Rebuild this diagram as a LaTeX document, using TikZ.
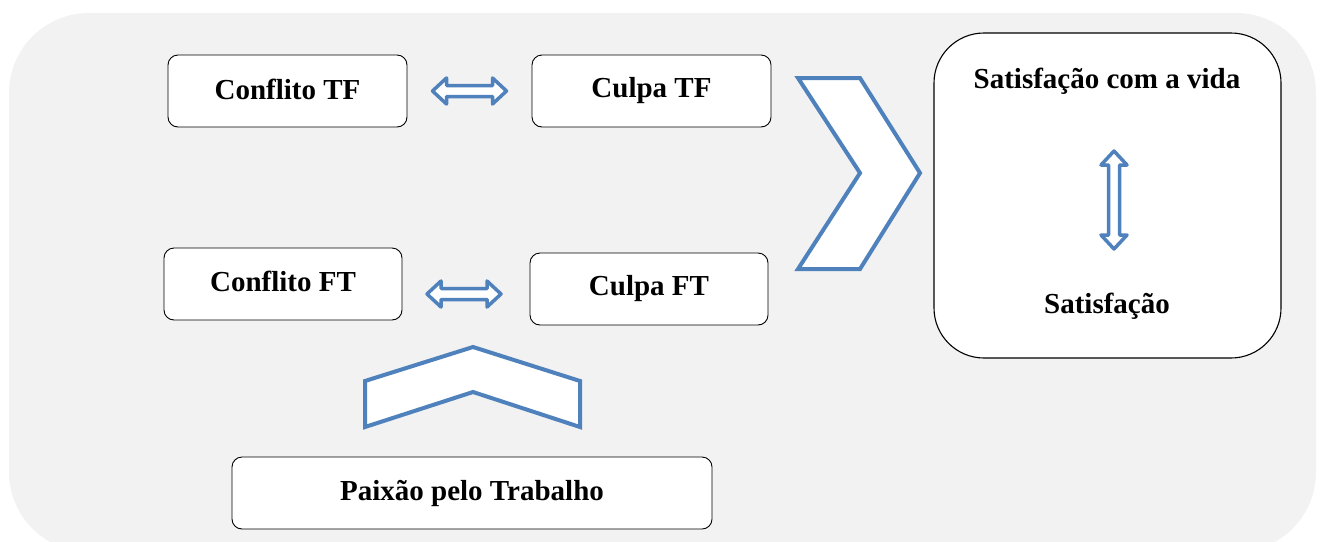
\documentclass[tikz,border=0pt]{standalone}
\usepackage{fontspec}
\setmainfont{Liberation Serif}
\usetikzlibrary{calc}
\definecolor{bggray}{HTML}{F2F2F2}
\definecolor{arrblue}{HTML}{4F81BD}
\tikzset{
  box/.style={draw=black, line width=0.9pt, fill=white, rounded corners=10pt, inner sep=0pt,
    font=\fontsize{29}{32}\selectfont\bfseries},
  shapeline/.style={draw=arrblue, fill=white, line width=4pt},
  arrline/.style={draw=arrblue, fill=white, line width=3.5pt, line join=round},
  label/.style={inner sep=0pt, font=\fontsize{29}{32}\selectfont\bfseries},
  dblarr/.pic={\path[arrline] (-#1,0)--(-#1+14,-13)--(-#1+14,-5.5)--(#1-14,-5.5)--(#1-14,-13)--(#1,0)--(#1-14,13)--(#1-14,5.5)--(-#1+14,5.5)--(-#1+14,13)--cycle;}
}
\begin{document}
\begin{tikzpicture}[x=1pt,y=-1pt]
\useasboundingbox (0,0) rectangle (1321,541);
\fill[bggray, rounded corners=80pt] (9,13) rectangle (1316,552);

\node[box, minimum width=239pt, minimum height=72pt] (ctf) at (287.5,91) {\raisebox{4pt}{Conflito TF}};
\node[box, minimum width=239pt, minimum height=72pt] (cutf) at (651.5,91) {Culpa TF};
\node[box, minimum width=238pt, minimum height=72pt] (cft) at (283,284) {\raisebox{6pt}{Conflito FT}};
\node[box, minimum width=238pt, minimum height=72pt] (cuft) at (649,289) {\raisebox{2pt}{Culpa FT}};
\node[box, minimum width=480pt, minimum height=72pt] (pt) at (472,493) {\raisebox{1pt}{Paixão pelo Trabalho}};
\node[box, rounded corners=50pt, line width=1.1pt, minimum width=347pt, minimum height=325pt] (sat) at (1107.5,195.5) {};
\node[label] (satvida) at (1107,81) {Satisfação com a vida};
\node[label] (satis) at (1107,306) {Satisfação};

% double arrows
\path ($(ctf.east)!0.5!(cutf.west)$) pic {dblarr=37};
\path (464,294) pic {dblarr=37};
\path (1114,200) pic[rotate=90] {dblarr=49};

% chevrons
\path[shapeline] (798,78) -- (860,78) -- (920,173) -- (860,269) -- (798,269) -- (860,173) -- cycle;
\path[shapeline] (365,427) -- (365,381) -- (473,347) -- (580,381) -- (580,427) -- (473,392) -- cycle;
\end{tikzpicture}
\end{document}
